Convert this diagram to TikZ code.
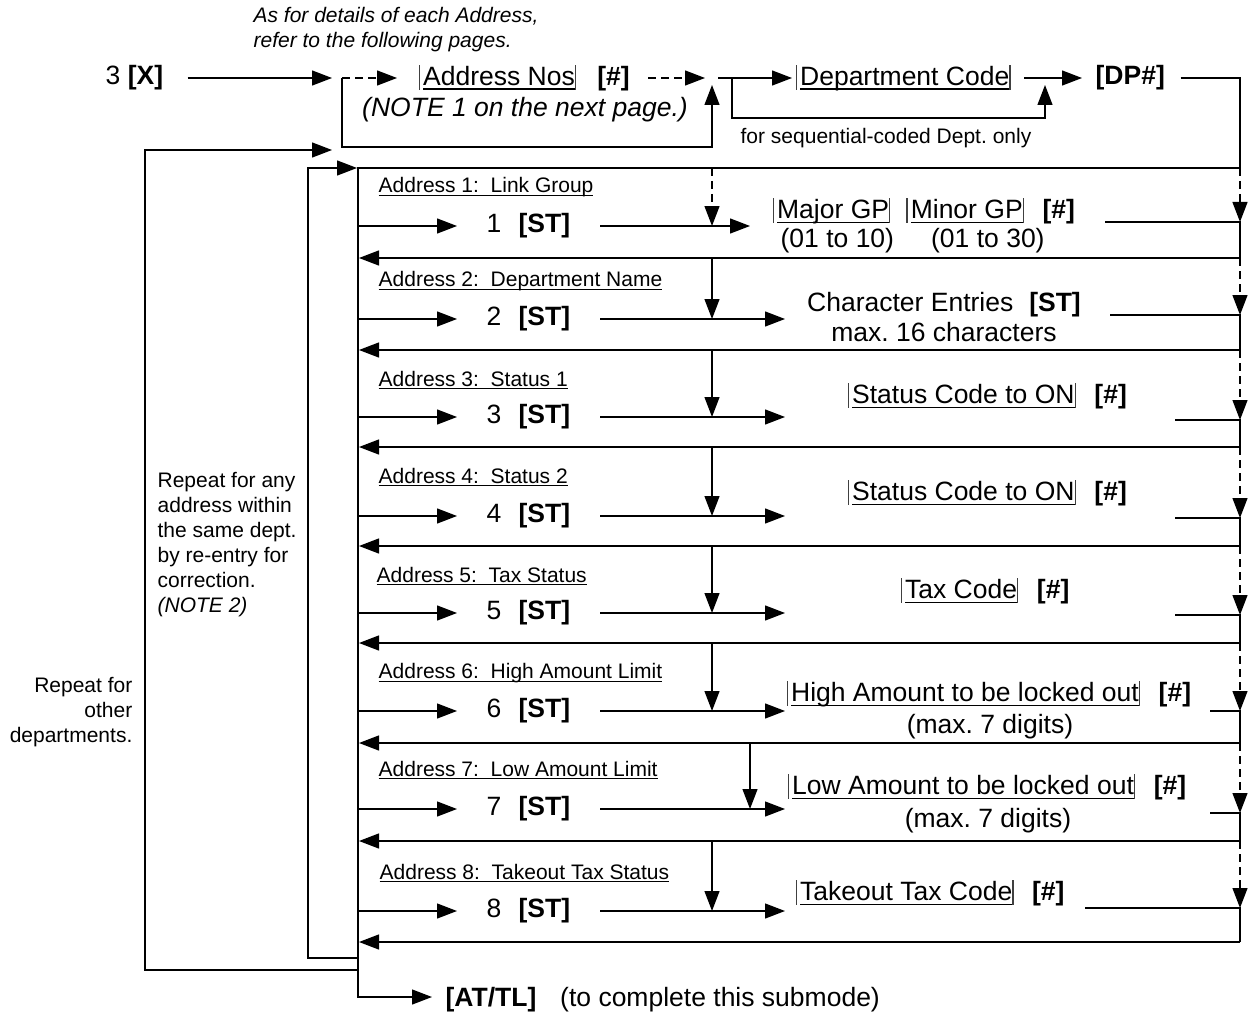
\documentclass[tikz,border=0pt]{standalone}
\usepackage{fontspec}
\setmainfont{Liberation Sans}
\usetikzlibrary{arrows.meta}
\frenchspacing
\newcommand\ulx[1]{\setbox0\hbox{#1}\rlap{\rule[-0.15em]{\wd0}{0.05em}}\box0}
\newcommand\vbarx{\textcolor{black!75}{\rule[-0.15em]{0.05em}{0.95em}}}
\newcommand\ubx[1]{\vbarx\hspace{0.12em}\ulx{#1}\vbarx}
\tikzset{
  big/.style={font=\fontsize{26.5}{30}\selectfont, inner sep=0pt},
  small/.style={font=\fontsize{21}{25}\selectfont, inner sep=0pt},
  arr/.style={-{Triangle[length=20pt,width=15pt]}},
  dsh/.style={dash pattern=on 8pt off 5pt},
  every path/.style={line width=1.3pt},
}
\begin{document}
\begin{tikzpicture}[x=1pt,y=-1pt]
\useasboundingbox (0,0) rectangle (1251,1014);

% ---------- top row ----------
\node[small,anchor=west,align=left,font=\fontsize{21}{25}\selectfont\itshape] (note) at (253,30)
  {As for details of each Address,\\refer to the following pages.};
\node[big,anchor=west] (X) at (105,78) {3 \textbf{[X]}};
\coordinate (xb) at (332,78);
\draw[arr] ([xshift=24pt]X.east) -- (xb);
\coordinate (c0) at (342,78);
\coordinate (c0t) at (397,78);
\draw[arr,dsh] (c0) -- (c0t);
\node[big,anchor=west] (AN) at (418,78) {\ubx{Address Nos}\hspace{0.8em}\textbf{[\#]}};
\coordinate (an2) at (705,78);
\draw[arr,dsh] ([xshift=18pt]AN.east) -- (an2);
\node[big,font=\fontsize{26.5}{30}\selectfont\itshape] (N1) at (525,110) {(NOTE 1 on the next page.)};
\coordinate (bp1) at (342,147);
\coordinate (bp2) at (712,147);
\coordinate (bp3) at (712,85);
\draw[arr] (c0) -- (bp1) -- (bp2) -- (bp3);
\coordinate (j1) at (718,78);
\coordinate (dct) at (792,78);
\draw[arr] (j1) -- (dct);
\node[big,anchor=west] (DC) at (795,78) {\ubx{Department Code}};
\coordinate (sq0) at (732,78);
\coordinate (sq1) at (732,118);
\coordinate (sq2) at (1045,118);
\coordinate (sq3) at (1045,85);
\draw[arr] (sq0) -- (sq1) -- (sq2) -- (sq3);
\node[small,anchor=west] (SEQ) at (740,138) {for sequential-coded Dept. only};
\coordinate (dpt) at (1082,78);
\draw[arr] ([xshift=13pt]DC.east) -- (dpt);
\node[big,anchor=west] (DP) at (1095,78) {\textbf{[DP\#]}};

% ---------- box frame ----------
\coordinate (tr0) at (1240,78);
\coordinate (boxTR) at (1240,168);
\coordinate (boxTL) at (358,168);
\coordinate (bot) at (358,997);
\coordinate (att) at (432,997);
\draw[arr] ([xshift=15pt]DP.east) -- (tr0) -- (boxTR) -- (boxTL) -- (bot) -- (att);
\node[big,anchor=west] (AT) at (445,1000) {\textbf{[AT/TL]}\hspace{0.9em}(to complete this submode)};

% ---------- loops ----------
\coordinate (o1) at (358,970);
\coordinate (o2) at (145,970);
\coordinate (o3) at (145,150);
\coordinate (o4) at (332,150);
\draw[arr] (o1) -- (o2) -- (o3) -- (o4);
\coordinate (i1) at (358,958);
\coordinate (i2) at (308,958);
\coordinate (i3) at (308,168);
\coordinate (i4) at (357,168);
\draw[arr] (i1) -- (i2) -- (i3) -- (i4);

\node[small,anchor=west,align=left] (REP1) at (157,545)
  {Repeat for any\\address within\\the same dept.\\by re-entry for\\correction.\\\textit{(NOTE 2)}};
\node[small,anchor=east,align=right] (REP2) at (133,712)
  {Repeat for\\other\\departments.};

% ---------- rows ----------
\foreach \n/\ya/\yr/\yp/\vx/\tp/\rx/\rly/\st in {
  1/226/258/168/712/750/1105/222/dsh,
  2/319/350/258/712/785/1110/315/solid,
  3/417/447/350/712/785/1175/420/solid,
  4/516/546/447/712/785/1175/518/solid,
  5/613/643/546/712/785/1175/615/solid,
  6/711/743/643/712/785/1210/711/solid,
  7/809/841/743/750/785/1210/813/solid,
  8/911/942/841/712/785/1085/908/solid}
{
  \coordinate (L\n) at (358,\ya);
  \coordinate (A\n) at (457,\ya);
  \node[big,anchor=west] (S\n) at (486,\ya) {\n\hspace{0.65em}\textbf{[ST]}};
  \coordinate (B\n) at (600,\ya);
  \coordinate (T\n) at (\tp,\ya);
  \coordinate (V\n) at (\vx,\ya);
  \coordinate (VP\n) at (\vx,\yp);
  \coordinate (R\n) at (\rx,\rly);
  \coordinate (RR\n) at (1240,\rly);
  \coordinate (RP\n) at (1240,\yp);
  \coordinate (Q\n) at (1240,\yr);
  \coordinate (QL\n) at (359,\yr);
  \draw[arr] (L\n) -- (A\n);
  \draw[arr] (B\n) -- (T\n);
  \draw[arr,\st] (VP\n) -- (V\n);
  \draw[arr,dsh] (RP\n) -- (RR\n);
  \draw (R\n) -- (RR\n) -- (Q\n);
  \draw[arr] (Q\n) -- (QL\n);
}

% address labels
\node[small,anchor=west] (AD1) at (378,187) {\ulx{Address 1:\ \ Link Group}};
\node[small,anchor=west] (AD2) at (378,281) {\ulx{Address 2:\ \ Department Name}};
\node[small,anchor=west] (AD3) at (378,380) {\ulx{Address 3:\ \ Status 1}};
\node[small,anchor=west] (AD4) at (378,477) {\ulx{Address 4:\ \ Status 2}};
\node[small,anchor=west] (AD5) at (376,576) {\ulx{Address 5:\ \ Tax Status}};
\node[small,anchor=west] (AD6) at (378,673) {\ulx{Address 6:\ \ High Amount Limit}};
\node[small,anchor=west] (AD7) at (378,770) {\ulx{Address 7:\ \ Low Amount Limit}};
\node[small,anchor=west] (AD8) at (379,873) {\ulx{Address 8:\ \ Takeout Tax Status}};

% right texts
\node[big,anchor=west] (E1a) at (772,211) {\ubx{Major GP}\hspace{0.6em}\ubx{Minor GP}\hspace{0.7em}\textbf{[\#]}};
\node[big,anchor=west] (E1b) at (780,241) {(01 to 10)\hspace{1.4em}(01 to 30)};
\node[big,align=center] (E2) at (944,317) {Character Entries\hspace{0.6em}\textbf{[ST]}\\max. 16 characters};
\node[big,anchor=west] (E3) at (847,396) {\ubx{Status Code to ON}\hspace{0.7em}\textbf{[\#]}};
\node[big,anchor=west] (E4) at (847,493) {\ubx{Status Code to ON}\hspace{0.7em}\textbf{[\#]}};
\node[big,anchor=west] (E5) at (900,591) {\ubx{Tax Code}\hspace{0.7em}\textbf{[\#]}};
\node[big,anchor=west] (E6a) at (786,694) {\ubx{High Amount to be locked out}\hspace{0.7em}\textbf{[\#]}};
\node[big] (E6b) at (990,727) {(max. 7 digits)};
\node[big,anchor=west] (E7a) at (787,787) {\ubx{Low Amount to be locked out}\hspace{0.7em}\textbf{[\#]}};
\node[big] (E7b) at (988,821) {(max. 7 digits)};
\node[big,anchor=west] (E8) at (795,893) {\ubx{Takeout Tax Code}\hspace{0.7em}\textbf{[\#]}};
\end{tikzpicture}
\end{document}
